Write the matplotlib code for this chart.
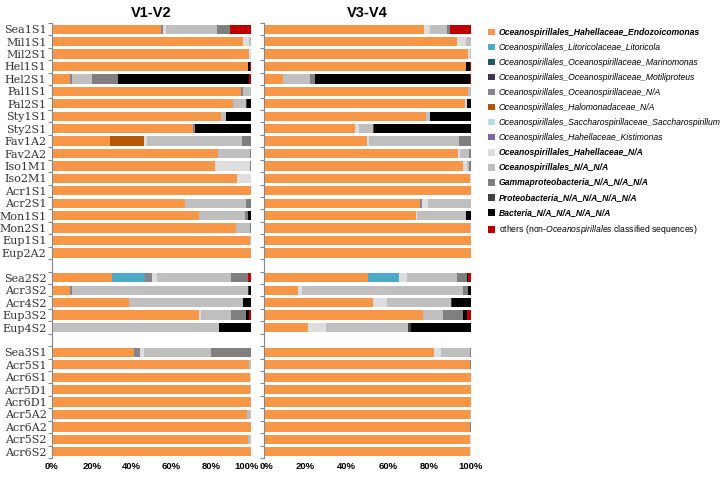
import matplotlib
matplotlib.use('Agg')
import matplotlib.pyplot as plt
import matplotlib.transforms as mtransforms
from matplotlib.patches import Patch
import numpy as np

plt.rcParams['font.family'] = 'Liberation Sans'
plt.rcParams['mathtext.fontset'] = 'custom'
plt.rcParams['mathtext.it'] = 'Liberation Sans:italic'
plt.rcParams['mathtext.rm'] = 'Liberation Sans'

# samples, three groups (blank row between groups)
samples_a = ['Sea1S1', 'Mil1S1', 'Mil2S1', 'Hel1S1', 'Hel2S1', 'Pal1S1', 'Pal2S1', 'Sty1S1', 'Sty2S1',
             'Fav1A2', 'Fav2A2', 'Iso1M1', 'Iso2M1', 'Acr1S1', 'Acr2S1', 'Mon1S1', 'Mon2S1', 'Eup1S1', 'Eup2A2']
samples_b = ['Sea2S2', 'Acr3S2', 'Acr4S2', 'Eup3S2', 'Eup4S2']
samples_c = ['Sea3S1', 'Acr5S1', 'Acr6S1', 'Acr5D1', 'Acr6D1', 'Acr5A2', 'Acr6A2', 'Acr5S2', 'Acr6S2']

categories = ['Oceanospirillales_Hahellaceae_Endozoicomonas',
              'Oceanospirillales_Litoricolaceae_Litoricola',
              'Oceanospirillales_Oceanospirillaceae_Marinomonas',
              'Oceanospirillales_Oceanospirillaceae_Motiliproteus',
              'Oceanospirillales_Oceanospirillaceae_N/A',
              'Oceanospirillales_Halomonadaceae_N/A',
              'Oceanospirillales_Saccharospirillaceae_Saccharospirillum',
              'Oceanospirillales_Hahellaceae_Kistimonas',
              'Oceanospirillales_Hahellaceae_N/A',
              'Oceanospirillales_N/A_N/A',
              'Gammaproteobacteria_N/A_N/A_N/A',
              'Proteobacteria_N/A_N/A_N/A_N/A',
              'Bacteria_N/A_N/A_N/A_N/A',
              'others (non-$\\mathit{Oceanospirillales}$ classified sequences)']
bold_cats = [0, 8, 9, 10, 11, 12]
colors = ['#F79646', '#4BACC6', '#215968', '#403151', '#86838E', '#B65708', '#B7DEE8',
          '#8064A2', '#DDDDDD', '#BFBFBF', '#7F7F7F', '#404040', '#000000', '#C00000']

# V1-V2 (% of reads), same order as samples_a + samples_b + samples_c
endo_12 = [55.0, 96.1, 99.0, 98.7, 8.9, 95.1, 90.9, 84.7, 71.0, 29.0, 83.2, 81.7, 93.1, 99.8, 67.0, 73.8, 92.3, 99.7, 99.8,
           30.0, 9.2, 38.6, 73.8, 0.0,
           41.1, 99.0, 99.5, 99.3, 99.8, 98.2, 99.9, 98.6, 99.9]
litor_12 = [0, 0, 0, 0, 0, 0, 0, 0, 0, 0, 0, 0, 0, 0, 0, 0, 0, 0, 0,
            16.6, 0, 0, 0, 0,
            0, 0, 0, 0, 0, 0, 0, 0, 0]
marino_12 = [0, 0, 0, 0, 0, 0, 0, 0, 0, 0, 0, 0, 0, 0, 0, 0, 0, 0, 0,
             0, 0, 0, 0, 0,
             0, 0, 0, 0, 0, 0, 0, 0, 0]
motili_12 = [0, 0, 0, 0, 0, 0, 0, 0, 0, 0, 0, 0, 0, 0, 0, 0, 0, 0, 0,
             0, 0, 0, 0, 0,
             0, 0, 0, 0, 0, 0, 0, 0, 0]
oceana_12 = [1.0, 0, 0, 0, 1.2, 1.0, 0, 0, 0.8, 0, 0, 0, 0, 0, 0, 0, 0, 0, 0,
             3.9, 1.0, 0, 0, 0,
             3.2, 0, 0, 0, 0, 0, 0, 0, 0]
halo_12 = [0, 0, 0, 0, 0, 0, 0, 0, 0, 17.4, 0, 0, 0, 0, 0, 0, 0, 0, 0,
           0, 0, 0, 0, 0,
           0, 0, 0, 0, 0, 0, 0, 0, 0]
sacch_12 = [0, 0, 0, 0, 0, 0, 0, 0, 0, 0, 0, 0, 0, 0, 0, 0, 0, 0, 0,
            0, 0, 0, 0, 0,
            0, 0, 0, 0, 0, 0, 0, 0, 0]
kisti_12 = [0, 0, 0, 0, 0, 0, 0, 0, 0, 0, 0, 0, 0, 0, 0, 0, 0, 0, 0,
            0, 0, 0, 0, 0,
            0, 0, 0, 0, 0, 0, 0, 0, 0]
hahena_12 = [1.3, 2.9, 1.0, 0, 0, 0, 0, 0, 0, 1.5, 0, 17.6, 6.9, 0.2, 0, 0, 0, 0, 0.2,
             2.3, 0, 0, 1.3, 0,
             1.8, 0, 0.5, 0, 0.2, 0, 0.1, 0, 0.1]
ocenana_12 = [25.5, 1.0, 0, 0, 10.2, 3.9, 6.6, 2.7, 0, 47.8, 16.3, 0, 0, 0, 30.4, 23.0, 7.2, 0.3, 0,
              37.2, 88.3, 57.2, 14.6, 84.0,
              33.9, 1.0, 0, 0.7, 0, 1.8, 0, 1.4, 0]
gamma_12 = [6.4, 0, 0, 0, 12.8, 0, 0, 0, 0, 4.2, 0.5, 0.7, 0, 0, 2.6, 1.7, 0.5, 0, 0,
            8.7, 0, 0, 8.0, 0,
            20.0, 0, 0, 0, 0, 0, 0, 0, 0]
proteo_12 = [0, 0, 0, 0, 0, 0, 0.5, 0, 0, 0, 0, 0, 0, 0, 0, 0, 0, 0, 0,
             0, 0.5, 0, 0, 0,
             0, 0, 0, 0, 0, 0, 0, 0, 0]
bact_12 = [0, 0, 0, 0.8, 65.8, 0, 2.0, 12.6, 28.2, 0, 0, 0, 0, 0, 0, 1.5, 0, 0, 0,
           0, 1.0, 4.2, 1.2, 16.0,
           0, 0, 0, 0, 0, 0, 0, 0, 0]
others_12 = [10.6, 0, 0, 0.5, 1.1, 0, 0, 0, 0, 0, 0, 0, 0, 0, 0, 0, 0, 0, 0,
             1.2, 0, 0, 1.0, 0,
             0, 0, 0, 0, 0, 0, 0, 0, 0]

# V3-V4
endo_34 = [77.2, 93.2, 98.6, 97.7, 9.3, 98.6, 97.0, 78.1, 44.0, 49.8, 93.6, 96.3, 99.5, 99.8, 75.4, 73.5, 99.5, 99.8, 99.8,
           50.2, 16.6, 52.7, 76.8, 21.4,
           82.0, 99.5, 99.8, 99.8, 99.8, 99.3, 99.5, 99.5, 99.6]
litor_34 = [0, 0, 0, 0, 0, 0, 0, 0, 0, 0, 0, 0, 0, 0, 0, 0, 0, 0, 0,
            15.0, 0, 0, 0, 0,
            0, 0, 0, 0, 0, 0, 0, 0, 0]
marino_34 = [0, 0, 0, 0, 0, 0, 0, 0, 0, 0, 0, 0, 0, 0, 0, 0, 0, 0, 0,
             0, 0, 0, 0, 0,
             0, 0, 0, 0, 0, 0, 0, 0, 0]
motili_34 = [0, 0, 0, 0, 0, 0, 0, 0, 0, 0, 0, 0, 0, 0, 0, 0, 0, 0, 0,
             0, 0, 0, 0, 0,
             0, 0, 0, 0, 0, 0, 0, 0, 0]
oceana_34 = [0, 0, 0, 0, 0, 0, 0, 0, 0, 0, 0, 0, 0, 0, 0.7, 0, 0, 0, 0,
             0, 0, 0, 0, 0,
             0, 0, 0, 0, 0, 0, 0, 0, 0]
halo_34 = [0, 0, 0, 0, 0, 0, 0, 0, 0, 0, 0, 0, 0, 0, 0, 0, 0, 0, 0,
           0, 0, 0, 0, 0,
           0, 0, 0, 0, 0, 0, 0, 0, 0]
sacch_34 = [0, 0, 0, 0, 0, 0, 0, 0, 0, 0, 0, 0, 0, 0, 0, 0, 0, 0, 0,
            0, 0, 0, 0, 0,
            0, 0, 0, 0, 0, 0, 0, 0, 0]
kisti_34 = [0, 0, 0, 0, 0, 0, 0, 0, 0, 0, 0, 0, 0, 0, 0, 0, 0, 0, 0,
            0, 0, 0, 0, 0,
            0, 0, 0, 0, 0, 0, 0, 0, 0]
hahena_34 = [3.2, 4.2, 1.0, 0, 0, 0, 1.1, 0, 1.9, 0.8, 1.0, 1.6, 0.5, 0.2, 2.9, 0.6, 0, 0, 0,
             3.7, 1.6, 6.6, 0, 8.4,
             3.4, 0, 0.2, 0.2, 0.2, 0, 0, 0.5, 0.4]
ocenana_34 = [8.0, 2.6, 0.4, 0, 12.9, 1.4, 0, 2.3, 6.8, 43.4, 4.6, 1.3, 0, 0, 21.0, 23.3, 0.5, 0.2, 0.2,
              24.3, 78.1, 31.0, 9.5, 39.7,
              14.0, 0, 0, 0, 0, 0.7, 0, 0, 0]
gamma_34 = [1.3, 0, 0, 0, 2.3, 0, 0, 0, 0, 6.0, 0.8, 0.8, 0, 0, 0, 0, 0, 0, 0,
            4.7, 2.4, 0, 9.6, 0,
            0.6, 0.5, 0, 0, 0, 0, 0.5, 0, 0]
proteo_34 = [0, 0, 0, 0, 0, 0, 0, 0, 0.6, 0, 0, 0, 0, 0, 0, 0, 0, 0, 0,
             0, 0, 0.6, 0, 1.3,
             0, 0, 0, 0, 0, 0, 0, 0, 0]
bact_34 = [0, 0, 0, 1.8, 74.8, 0, 1.9, 19.6, 46.6, 0, 0, 0, 0, 0, 0, 2.6, 0, 0, 0,
           0.5, 1.3, 9.1, 2.4, 29.3,
           0, 0, 0, 0, 0, 0, 0, 0, 0]
others_34 = [10.3, 0, 0, 0.5, 0.8, 0, 0, 0, 0, 0, 0, 0, 0, 0, 0, 0, 0, 0, 0,
             1.8, 0, 0, 1.6, 0,
             0, 0, 0, 0, 0, 0, 0, 0, 0]

series_12 = [endo_12, litor_12, marino_12, motili_12, oceana_12, halo_12, sacch_12, kisti_12,
             hahena_12, ocenana_12, gamma_12, proteo_12, bact_12, others_12]
series_34 = [endo_34, litor_34, marino_34, motili_34, oceana_34, halo_34, sacch_34, kisti_34,
             hahena_34, ocenana_34, gamma_34, proteo_34, bact_34, others_34]

# y positions with a blank slot between groups
samples = []
pos = []
y = 0
for grp in [samples_a, samples_b, samples_c]:
    for s in grp:
        samples.append(s)
        pos.append(y)
        y += 1
    y += 1
pos = np.array(pos)
ymax = pos[-1]

fig = plt.figure(figsize=(7.23, 4.78), dpi=100)
ax1 = fig.add_axes([52/723, 20/478, 199/723, 435/478])
ax2 = fig.add_axes([264/723, 20/478, 207/723, 435/478])

for ax, series, title in [(ax1, series_12, 'V1-V2'), (ax2, series_34, 'V3-V4')]:
    left = np.zeros(len(pos))
    for vals, c in zip(series, colors):
        vals = np.array(vals, dtype=float)
        ax.barh(pos, vals, left=left, height=0.75, color=c, linewidth=0)
        left += vals
    ax.set_xlim(0, 100)
    ax.set_ylim(ymax + 0.5, -0.5)
    for sp in ['top', 'right', 'bottom']:
        ax.spines[sp].set_visible(False)
    ax.spines['left'].set_color('#868686')
    ax.spines['left'].set_linewidth(0.8)
    ax.set_yticks(np.arange(-0.5, ymax + 1, 1), minor=True)
    ax.tick_params(axis='y', which='minor', length=3, color='#868686', width=0.8)
    ax.tick_params(axis='y', which='major', length=0, pad=4)
    ax.set_xticks([0, 20, 40, 60, 80, 100])
    ax.set_xticklabels(['0%', '20%', '40%', '60%', '80%', '100%'], fontsize=6.8, fontweight='bold')
    ax.tick_params(axis='x', length=0, pad=3)
    ax.set_title(title, fontsize=10.5, fontweight='bold', pad=4)

# keep the touching "100%" / "0%" labels apart
lab = ax1.get_xticklabels()[-1]
lab.set_transform(lab.get_transform() + mtransforms.ScaledTranslation(-4/100, 0, fig.dpi_scale_trans))
lab = ax2.get_xticklabels()[0]
lab.set_transform(lab.get_transform() + mtransforms.ScaledTranslation(2/100, 0, fig.dpi_scale_trans))

ax1.set_yticks(pos)
ax1.set_yticklabels(samples, fontsize=8, family='DejaVu Serif', color='#333333')
ax2.set_yticks(pos)
ax2.set_yticklabels([])

handles = [Patch(facecolor=c, edgecolor='none') for c in colors]
leg = fig.legend(handles, categories, loc='upper left', bbox_to_anchor=(488/723, 1 - 28/478),
                 frameon=False, fontsize=6.2, handlelength=0.8, handleheight=0.8,
                 handletextpad=0.45, labelspacing=0.7, borderaxespad=0, borderpad=0)
for i, t in enumerate(leg.get_texts()):
    if i < 13:
        t.set_style('italic')
    if i in bold_cats:
        t.set_fontweight('bold')

fig.savefig('out.png', dpi=100)
